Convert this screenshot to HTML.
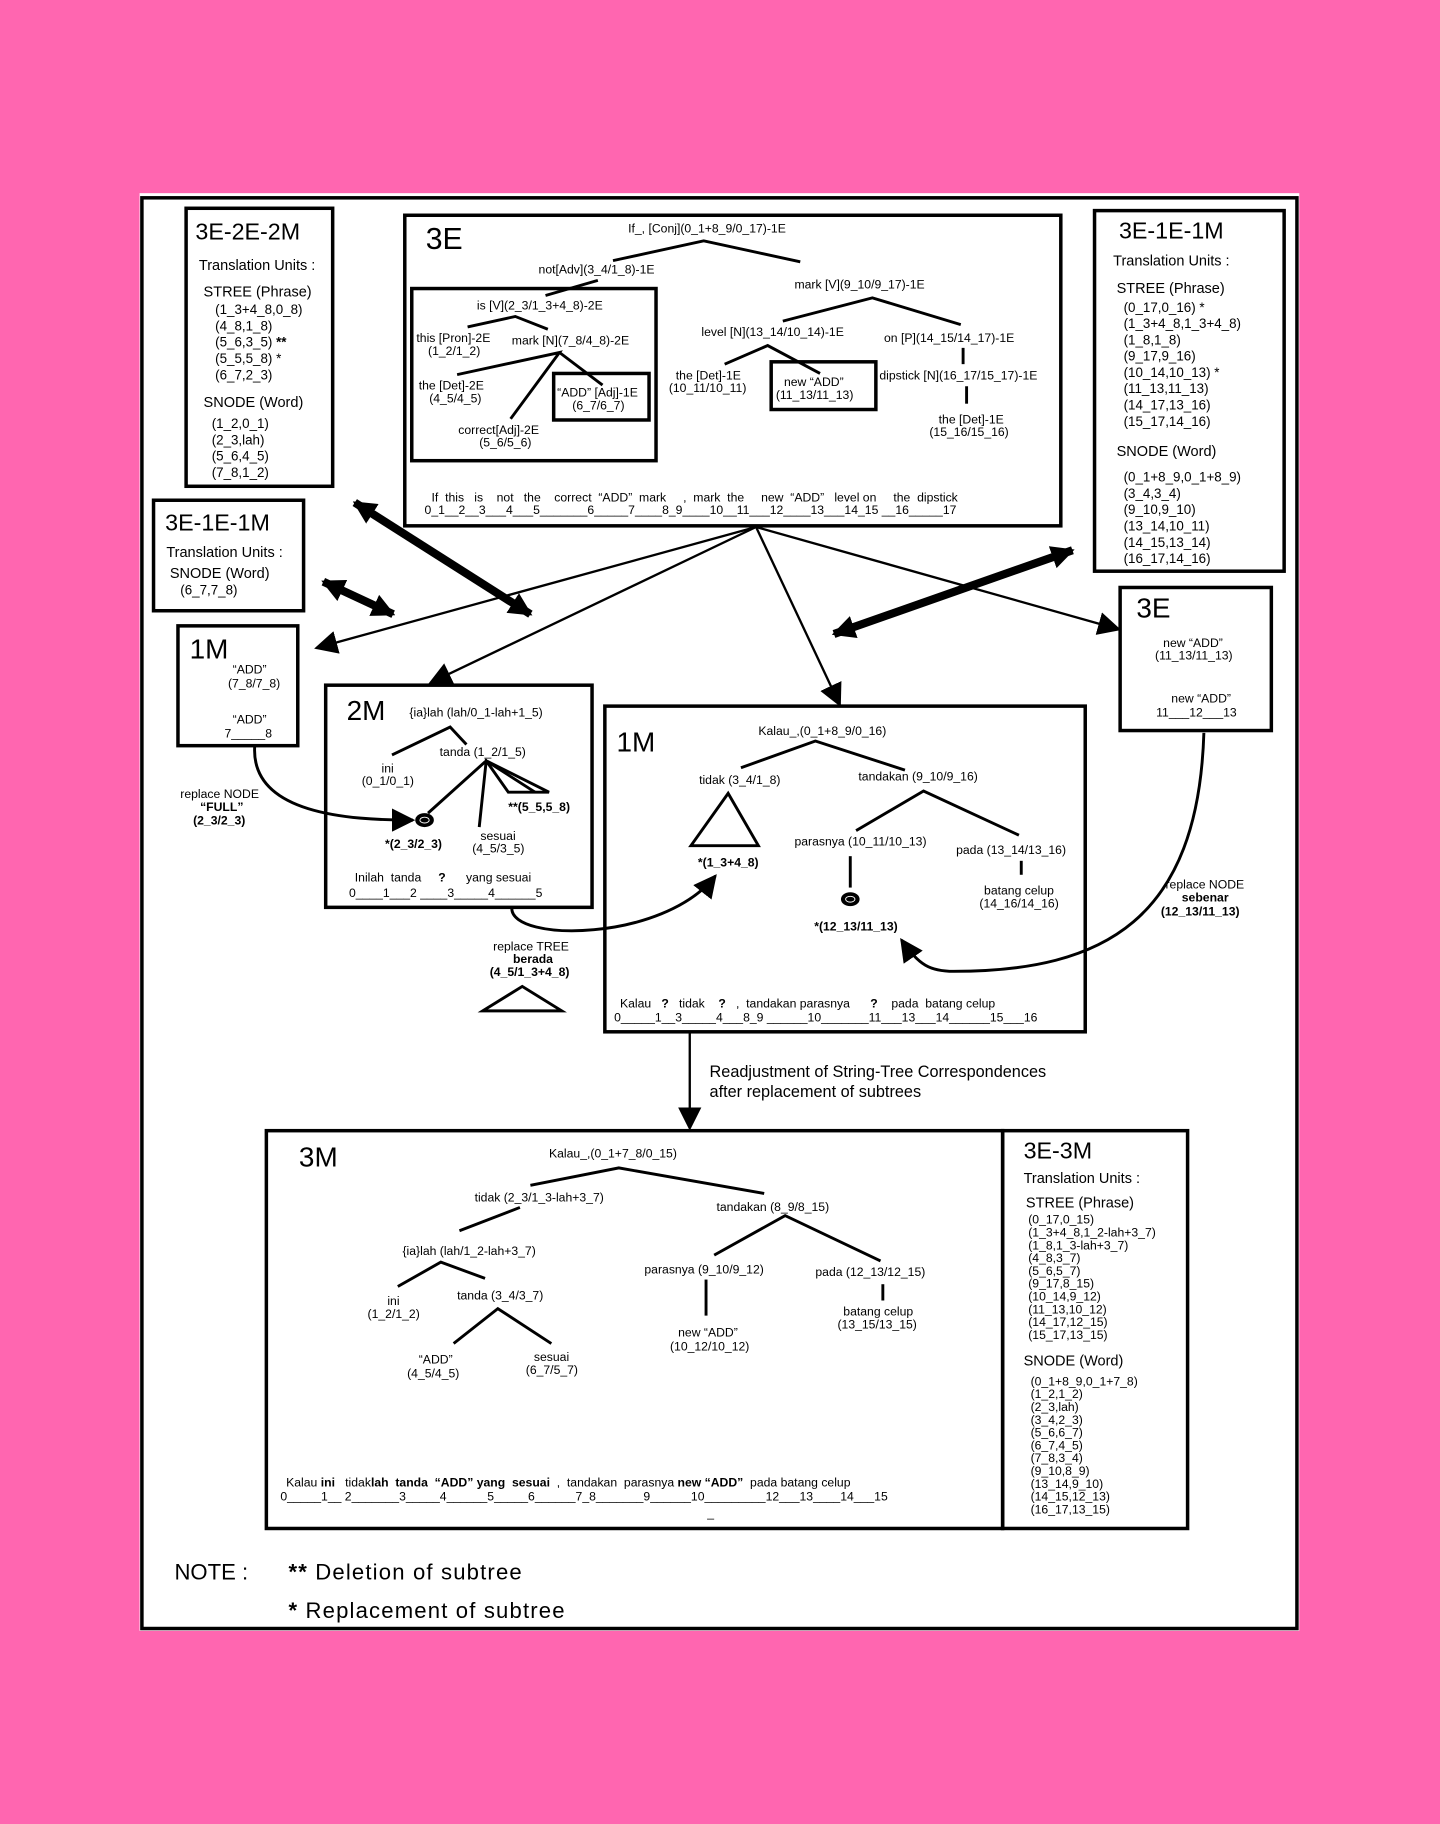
<!DOCTYPE html>
<html><head><meta charset="utf-8"><style>
html,body{margin:0;padding:0;background:#ff66b0;}
svg{display:block;}
text{font-family:"Liberation Sans",sans-serif;fill:#000;}
.s{font-size:10.5px;}
.m{font-size:12.5px;}
.b{font-weight:bold;}
.t{font-size:24px;}
</style></head><body>
<svg width="1440" height="1824" viewBox="0 0 1238 1568" xmlns="http://www.w3.org/2000/svg">
<defs>
<marker id="ab" markerWidth="20" markerHeight="20" refX="18" refY="10" orient="auto" markerUnits="userSpaceOnUse"><path d="M0,0 L20,10 L0,20z" fill="#000"/></marker>
<marker id="abs" markerWidth="20" markerHeight="20" refX="2" refY="10" orient="auto" markerUnits="userSpaceOnUse"><path d="M20,0 L0,10 L20,20z" fill="#000"/></marker>
</defs>
<rect x="120" y="166" width="997" height="1236" fill="#fff"/>
<rect x="122" y="170" width="993" height="1230" fill="none" stroke="#000" stroke-width="3"/>
<g fill="none" stroke="#000" stroke-width="3">
<rect x="160" y="179" width="126" height="239"/>
<rect x="348" y="185" width="564" height="267"/>
<rect x="941" y="181" width="163" height="310"/>
<rect x="132" y="430" width="129" height="95"/>
<rect x="153" y="538" width="103" height="103"/>
<rect x="280" y="589" width="229" height="191"/>
<rect x="520" y="607" width="413" height="280"/>
<rect x="963" y="505" width="130" height="123"/>
<rect x="229" y="972" width="633" height="342"/>
<rect x="862" y="972" width="159" height="342"/>
<rect x="354" y="248" width="210" height="148"/>
<rect x="476" y="321" width="82" height="40"/>
<rect x="663" y="311" width="90" height="41"/>
</g>
<!-- 3E-2E-2M -->
<text x="168" y="206" style="font-size:20px">3E-2E-2M</text>
<text x="171" y="232" class="m">Translation Units :</text>
<text x="175" y="255" class="m">STREE (Phrase)</text>
<g style="font-size:11.5px"><text x="185" y="270">(1_3+4_8,0_8)</text><text x="185" y="284">(4_8,1_8)</text><text x="185" y="298">(5_6,3_5) <tspan class="b">**</tspan></text><text x="185" y="312">(5_5,5_8)  *</text><text x="185" y="326">(6_7,2_3)</text></g>
<text x="175" y="350" class="m">SNODE (Word)</text>
<g style="font-size:11.5px"><text x="182" y="368">(1_2,0_1)</text><text x="182" y="382">(2_3,lah)</text><text x="182" y="396">(5_6,4_5)</text><text x="182" y="410">(7_8,1_2)</text></g>
<!-- 3E tree -->
<text x="366" y="214" style="font-size:26px">3E</text>
<g class="s">
<text x="540" y="200">If_, [Conj](0_1+8_9/0_17)-1E</text>
<text x="463" y="235">not[Adv](3_4/1_8)-1E</text>
<text x="683" y="248">mark [V](9_10/9_17)-1E</text>
<text x="410" y="266">is [V](2_3/1_3+4_8)-2E</text>
<text x="358" y="294">this [Pron]-2E</text><text x="368" y="305">(1_2/1_2)</text>
<text x="440" y="296">mark [N](7_8/4_8)-2E</text>
<text x="360" y="335">the [Det]-2E</text><text x="369" y="346">(4_5/4_5)</text>
<text x="479" y="341">“ADD” [Adj]-1E</text><text x="492" y="352">(6_7/6_7)</text>
<text x="394" y="373">correct[Adj]-2E</text><text x="412" y="384">(5_6/5_6)</text>
<text x="603" y="289">level [N](13_14/10_14)-1E</text>
<text x="760" y="294">on [P](14_15/14_17)-1E</text>
<text x="581" y="326">the [Det]-1E</text><text x="575" y="337">(10_11/10_11)</text>
<text x="674" y="332">new “ADD”</text><text x="667" y="343">(11_13/11_13)</text>
<text x="756" y="326">dipstick [N](16_17/15_17)-1E</text>
<text x="807" y="364">the [Det]-1E</text><text x="799" y="375">(15_16/15_16)</text>
<text x="371" y="431" xml:space="preserve">If  this   is    not   the    correct  “ADD”  mark     ,  mark  the     new  “ADD”   level on     the  dipstick</text>
<text x="365" y="442">0_1__2__3___4___5_______6_____7____8_9____10__11___12____13___14_15 __16_____17</text>
</g>
<g stroke="#000" stroke-width="2.5" fill="none">
<path d="M527,224 L605,207 L688,225"/>
<path d="M514,241 L469,254"/>
<path d="M402,281 L443,272 L471,283"/>
<path d="M393,322 L481,303 L439,360"/><path d="M481,303 L518,331"/>
<path d="M673,276 L750,256 L826,279"/>
<path d="M623,313 L660,297 L705,321"/>
<path d="M828,299 L828,313"/><path d="M831,332 L831,347"/>
</g>
<!-- 3E-1E-1M right -->
<text x="962" y="205" style="font-size:20px">3E-1E-1M</text>
<text x="957" y="228" class="m">Translation Units :</text>
<text x="960" y="252" class="m">STREE (Phrase)</text>
<g style="font-size:11.5px"><text x="966" y="268">(0_17,0_16) *</text><text x="966" y="282">(1_3+4_8,1_3+4_8)</text><text x="966" y="296">(1_8,1_8)</text><text x="966" y="310">(9_17,9_16)</text><text x="966" y="324">(10_14,10_13)  *</text><text x="966" y="338">(11_13,11_13)</text><text x="966" y="352">(14_17,13_16)</text><text x="966" y="366">(15_17,14_16)</text></g>
<text x="960" y="392" class="m">SNODE (Word)</text>
<g style="font-size:11.5px"><text x="966" y="414">(0_1+8_9,0_1+8_9)</text><text x="966" y="428">(3_4,3_4)</text><text x="966" y="442">(9_10,9_10)</text><text x="966" y="456">(13_14,10_11)</text><text x="966" y="470">(14_15,13_14)</text><text x="966" y="484">(16_17,14_16)</text></g>
<!-- 3E-1E-1M left -->
<text x="142" y="456" style="font-size:20px">3E-1E-1M</text>
<text x="143" y="479" class="m">Translation Units :</text>
<text x="146" y="497" class="m">SNODE (Word)</text>
<text x="155" y="511" style="font-size:11.5px">(6_7,7_8)</text>
<!-- 1M small -->
<text x="163" y="566" class="t">1M</text>
<g class="s"><text x="200" y="579">“ADD”</text><text x="196" y="591">(7_8/7_8)</text><text x="200" y="622">“ADD”</text><text x="193" y="634">7_____8</text></g>
<!-- 2M -->
<text x="298" y="619" class="t">2M</text>
<g class="s">
<text x="352" y="616">{ia}lah (lah/0_1-lah+1_5)</text>
<text x="378" y="650">tanda (1_2/1_5)</text>
<text x="328" y="664">ini</text><text x="311" y="675">(0_1/0_1)</text>
<text x="437" y="697" class="b">**(5_5,5_8)</text>
<text x="331" y="729" class="b">*(2_3/2_3)</text>
<text x="413" y="722">sesuai</text><text x="406" y="733">(4_5/3_5)</text>
<text x="305" y="758" xml:space="preserve">Inilah  tanda     <tspan class="b">?</tspan>      yang sesuai</text>
<text x="300" y="771">0____1___2 ____3_____4______5</text>
</g>
<g stroke="#000" stroke-width="2.5" fill="none">
<path d="M337,649 L387,625 L401,640"/>
<path d="M368,699 L418,654 L437,681 L472,681 L418,654 L412,711"/>
<path d="M418,654 L460,681"/>
</g>
<ellipse cx="365" cy="705" rx="8" ry="6" fill="#000"/><ellipse cx="365" cy="705" rx="4" ry="2.5" fill="none" stroke="#fff" stroke-width="0.8"/>
<!-- 1M main -->
<text x="530" y="646" class="t">1M</text>
<g class="s">
<text x="652" y="632">Kalau_,(0_1+8_9/0_16)</text>
<text x="601" y="674">tidak (3_4/1_8)</text>
<text x="738" y="671">tandakan (9_10/9_16)</text>
<text x="683" y="727">parasnya (10_11/10_13)</text>
<text x="822" y="734">pada (13_14/13_16)</text>
<text x="846" y="769">batang celup</text><text x="842" y="780">(14_16/14_16)</text>
<text x="600" y="745" class="b">*(1_3+4_8)</text>
<text x="700" y="800" class="b">*(12_13/11_13)</text>
<text x="533" y="866" xml:space="preserve">Kalau   <tspan class="b">?</tspan>   tidak    <tspan class="b">?</tspan>   ,  tandakan parasnya      <tspan class="b">?</tspan>    pada  batang celup</text>
<text x="528" y="878">0_____1__3_____4___8_9 ______10_______11___13___14______15___16</text>
</g>
<g stroke="#000" stroke-width="2.5" fill="none">
<path d="M637,660 L701,637 L778,662"/>
<path d="M594,727 L626,682 L652,727 Z"/>
<path d="M736,714 L794,680 L876,718"/>
<path d="M731,736 L731,763"/><path d="M878,740 L878,752"/>
</g>
<ellipse cx="731" cy="773" rx="8" ry="6" fill="#000"/><ellipse cx="731" cy="773" rx="4" ry="2.5" fill="none" stroke="#fff" stroke-width="0.8"/>
<!-- 3E right -->
<text x="977" y="531" class="t">3E</text>
<g class="s"><text x="1000" y="556">new “ADD”</text><text x="993" y="567">(11_13/11_13)</text>
<text x="1007" y="604">new   “ADD”</text><text x="994" y="616">11___12___13</text></g>
<!-- labels between -->
<g class="s">
<text x="155" y="686">replace NODE</text><text x="172" y="697" class="b">“FULL”</text><text x="166" y="709" class="b">(2_3/2_3)</text>
<text x="424" y="817">replace TREE</text><text x="441" y="828" class="b">berada</text><text x="421" y="839" class="b">(4_5/1_3+4_8)</text>
<text x="1002" y="764">replace NODE</text><text x="1016" y="775" class="b">sebenar</text><text x="998" y="787" class="b">(12_13/11_13)</text>
</g>
<path d="M415,869 L449,848 L483,869 Z" fill="none" stroke="#000" stroke-width="2.5"/>
<text x="610" y="926" style="font-size:14px">Readjustment of String-Tree Correspondences</text>
<text x="610" y="943" style="font-size:14px">after replacement of subtrees</text>
<!-- 3M -->
<text x="257" y="1003" class="t">3M</text>
<g class="s">
<text x="472" y="995">Kalau_,(0_1+7_8/0_15)</text>
<text x="408" y="1033">tidak (2_3/1_3-lah+3_7)</text>
<text x="616" y="1041">tandakan (8_9/8_15)</text>
<text x="346" y="1079">{ia}lah (lah/1_2-lah+3_7)</text>
<text x="554" y="1095">parasnya (9_10/9_12)</text>
<text x="701" y="1097">pada (12_13/12_15)</text>
<text x="333" y="1122">ini</text><text x="316" y="1133">(1_2/1_2)</text>
<text x="393" y="1117">tanda (3_4/3_7)</text>
<text x="725" y="1131">batang celup</text><text x="720" y="1142">(13_15/13_15)</text>
<text x="583" y="1149">new “ADD”</text><text x="576" y="1161">(10_12/10_12)</text>
<text x="360" y="1172">“ADD”</text><text x="350" y="1184">(4_5/4_5)</text>
<text x="459" y="1170">sesuai</text><text x="452" y="1181">(6_7/5_7)</text>
<text x="246" y="1278" xml:space="preserve">Kalau <tspan class="b">ini</tspan>   tidak<tspan class="b">lah  tanda  “ADD” yang  sesuai</tspan>  ,  tandakan  parasnya <tspan class="b">new “ADD”</tspan>  pada batang celup</text>
<text x="241" y="1290">0_____1__ 2_______3_____4______5_____6______7_8_______9______10_________12___13____14___15</text>
<text x="608" y="1304">_</text>
</g>
<g stroke="#000" stroke-width="2.5" fill="none">
<path d="M456,1019 L532,1004 L657,1026"/>
<path d="M447,1038 L395,1058"/>
<path d="M342,1106 L379,1085 L417,1099"/>
<path d="M390,1155 L428,1125 L474,1155"/>
<path d="M614,1079 L675,1045 L757,1084"/>
<path d="M607,1100 L607,1131"/><path d="M759,1104 L759,1118"/>
</g>
<!-- 3E-3M -->
<text x="880" y="996" style="font-size:20px">3E-3M</text>
<text x="880" y="1017" class="m">Translation Units :</text>
<text x="882" y="1038" class="m">STREE (Phrase)</text>
<g style="font-size:10.5px"><text x="884" y="1052">(0_17,0_15)</text><text x="884" y="1063">(1_3+4_8,1_2-lah+3_7)</text><text x="884" y="1074">(1_8,1_3-lah+3_7)</text><text x="884" y="1085">(4_8,3_7)</text><text x="884" y="1096">(5_6,5_7)</text><text x="884" y="1107">(9_17,8_15)</text><text x="884" y="1118">(10_14,9_12)</text><text x="884" y="1129">(11_13,10_12)</text><text x="884" y="1140">(14_17,12_15)</text><text x="884" y="1151">(15_17,13_15)</text></g>
<text x="880" y="1174" class="m">SNODE (Word)</text>
<g style="font-size:10.5px"><text x="886" y="1191">(0_1+8_9,0_1+7_8)</text><text x="886" y="1202">(1_2,1_2)</text><text x="886" y="1213">(2_3,lah)</text><text x="886" y="1224">(3_4,2_3)</text><text x="886" y="1235">(5_6,6_7)</text><text x="886" y="1246">(6_7,4_5)</text><text x="886" y="1257">(7_8,3_4)</text><text x="886" y="1268">(9_10,8_9)</text><text x="886" y="1279">(13_14,9_10)</text><text x="886" y="1290">(14_15,12_13)</text><text x="886" y="1301">(16_17,13_15)</text></g>
<!-- NOTE -->
<text x="150" y="1358" style="font-size:19px">NOTE :</text>
<text x="248" y="1358" style="font-size:19px;letter-spacing:1px"><tspan class="b">**</tspan> Deletion of subtree</text>
<text x="248" y="1391" style="font-size:19px;letter-spacing:1px"><tspan class="b">*</tspan>  Replacement  of subtree</text>
<!-- connectors -->
<g stroke="#000" fill="none">
<path d="M650,453 L272,557" stroke-width="2" marker-end="url(#ab)"/>
<path d="M650,453 L370,587" stroke-width="2" marker-end="url(#ab)"/>
<path d="M650,453 L722,606" stroke-width="2" marker-end="url(#ab)"/>
<path d="M650,453 L962,541" stroke-width="2" marker-end="url(#ab)"/>
<path d="M593,888 L593,970" stroke-width="2" marker-end="url(#ab)"/>
<path d="M305,432 L456,528" stroke-width="7" marker-start="url(#abs)" marker-end="url(#ab)"/>
<path d="M278,500 L338,528" stroke-width="7" marker-start="url(#abs)" marker-end="url(#ab)"/>
<path d="M717,545 L922,473" stroke-width="7" marker-start="url(#abs)" marker-end="url(#ab)"/>
<path d="M219,641 C215,700 300,705 355,705" stroke-width="2.5" marker-end="url(#ab)"/>
<path d="M440,781 C440,810 570,810 615,753" stroke-width="2.5" marker-end="url(#ab)"/>
<path d="M1035,630 C1030,790 950,835 820,835 C800,835 790,830 775,808" stroke-width="2.5" marker-end="url(#ab)"/>
</g>
</svg>
</body></html>
